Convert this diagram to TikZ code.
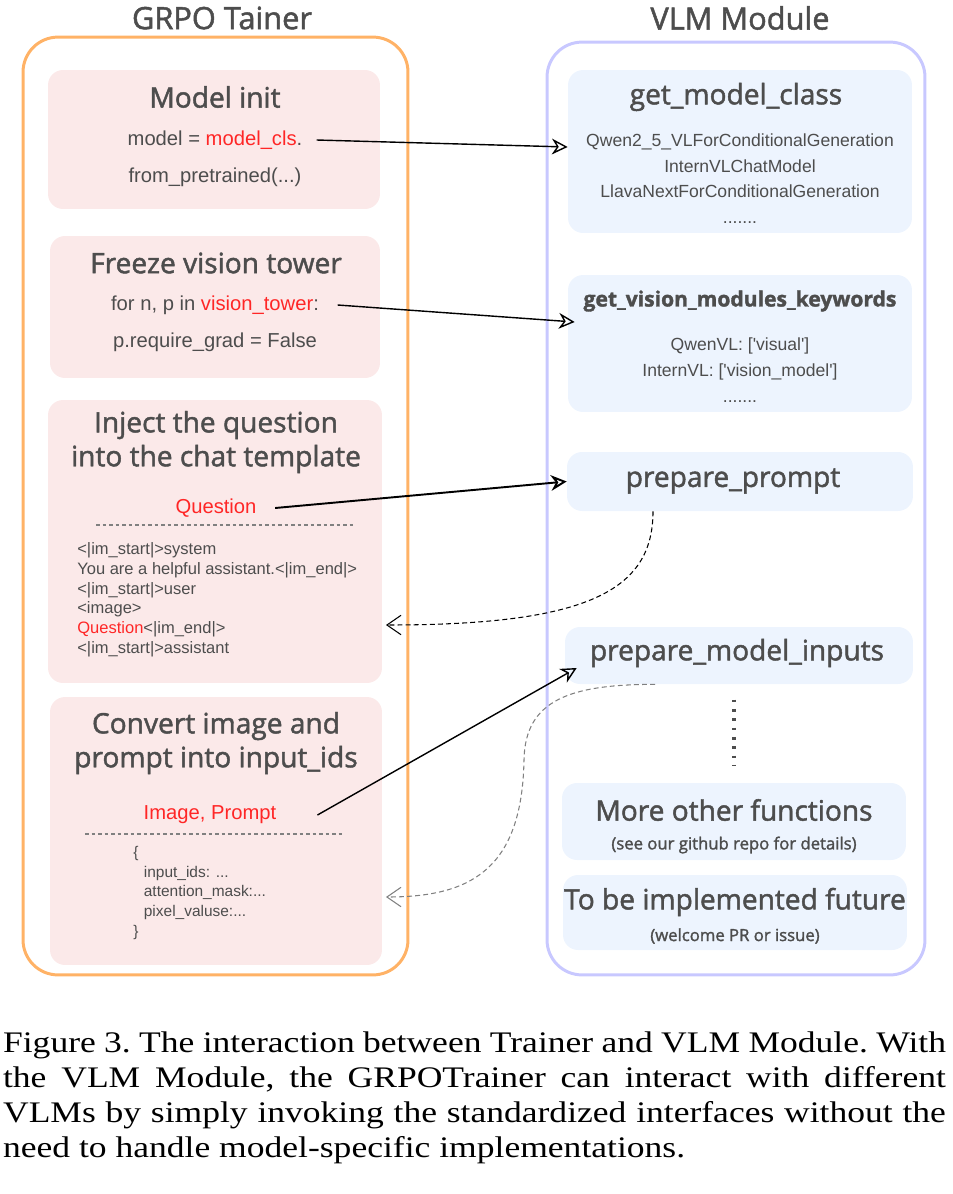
\documentclass[tikz,border=0pt]{standalone}
\usepackage{fontspec}
\setmainfont{Liberation Sans}
\newfontfamily\handfont{Open Sans}[FakeBold=1.6]
\newfontfamily\capfont{Liberation Serif}[FakeStretch=1.19]
\usetikzlibrary{arrows.meta}
\definecolor{ink}{RGB}{77,77,77}
\definecolor{hot}{RGB}{255,38,38}
\definecolor{rose}{RGB}{251,233,233}
\definecolor{ice}{RGB}{237,244,254}
\definecolor{peach}{RGB}{255,178,102}
\definecolor{lilac}{RGB}{200,200,255}
\newcommand{\redtxt}[1]{\textcolor{hot}{#1}}
\newcommand{\fs}[2]{\fontsize{#1}{#2}\selectfont}

\begin{document}
\begin{tikzpicture}[x=0.02cm,y=-0.02cm,
  frame/.style={draw, line width=1.7pt, rounded corners=0.7cm},
  rosebox/.style={fill=rose, rounded corners=0.3cm},
  icebox/.style={fill=ice, rounded corners=0.3cm},
  maintitle/.style={font=\handfont\fs{17.5}{21}, text=ink},
  head/.style={font=\handfont\fs{16}{19.3}, text=ink, align=center},
  sub/.style={font=\handfont\fs{9.5}{11}, text=ink},
  body/.style={font=\fs{11.5}{14}, text=ink},
  small/.style={font=\fs{10}{14.6}, text=ink, align=center},
  code/.style={font=\fs{9.4}{11.3}, text=ink, align=left, inner sep=0pt, anchor=north west},
  sep/.style={dash pattern=on 2pt off 1.7pt, gray, line width=0.6pt},
  fwd/.style={-{Stealth[open,length=9pt,width=9pt]}, line width=0.8pt},
  back/.style={dash pattern=on 2.8pt off 1.8pt, -{Straight Barb[length=8pt,width=11pt]}, line width=0.6pt}]
\useasboundingbox (0,0) rectangle (953,1194);

\node[maintitle] (lhead) at (222,18) {GRPO Tainer};
\node[maintitle] (rhead) at (740,18) {VLM Module};

\node[frame, draw=peach, minimum width=7.7cm, minimum height=18.76cm] (trainer) at (215.5,506) {};
\node[frame, draw=lilac, minimum width=7.56cm, minimum height=18.66cm] (vlm) at (736,508.5) {};

% trainer side
\node[rosebox, minimum width=6.64cm, minimum height=2.78cm] (init) at (214,139.5) {};
\node[head] (inithead) at (215,97) {Model init};
\node[body] (cls) at (215,140) {model = \redtxt{model\_cls}.};
\node[body] (fp) at (215,177) {from\_pretrained(...)};

\node[rosebox, minimum width=6.6cm, minimum height=2.84cm] (freeze) at (215,307) {};
\node[head] (freezehead) at (216,263) {Freeze vision tower};
\node[body] (vt) at (215,305) {for n, p in \redtxt{vision\_tower}:};
\node[body] (grad) at (215,342) {p.require\_grad = False};

\node[rosebox, minimum width=6.68cm, minimum height=5.66cm] (inject) at (215,541.5) {};
\node[head] (injecthead) at (216,442) {Inject the question\\into the chat template};
\node[body] (q) at (216,508) {\redtxt{Question}};
\draw[sep] (96,525) -- (355,525);
\node[code] (tmpl) at (77,542) {<|im\_start|>system\\
You are a helpful assistant.<|im\_end|>\\
<|im\_start|>user\\
<image>\\
\redtxt{Question}<|im\_end|>\\
<|im\_start|>assistant};

\node[rosebox, minimum width=6.64cm, minimum height=5.36cm] (convert) at (216,831) {};
\node[head] (converthead) at (216,743) {Convert image and\\prompt into input\_ids};
\node[body] (ip) at (210,815) {\redtxt{Image, Prompt}};
\draw[sep] (85,834) -- (343,834);
\node[code, font=\fs{8.8}{11.2}] (ids) at (133,846) {\{\\
\hspace*{6pt}input\_ids: ...\\
\hspace*{6pt}attention\_mask:...\\
\hspace*{6pt}pixel\_valuse:...\\
\}};

% vlm side
\node[icebox, minimum width=6.88cm, minimum height=3.26cm] (gmc) at (740,151.5) {};
\node[head] (gmchead) at (736,97) {get\_model\_class};
\node[small] (mlist) at (740,178.5) {Qwen2\_5\_VLForConditionalGeneration\\InternVLChatModel\\LlavaNextForConditionalGeneration\\.......};

\node[icebox, minimum width=6.88cm, minimum height=2.74cm] (gvk) at (740,343.5) {};
\node[head, font=\handfont\bfseries\fs{12}{14}] (gvkhead) at (740,301) {get\_vision\_modules\_keywords};
\node[small, font=\fs{10}{14.7}] (klist) at (740,370) {QwenVL: [\textquotesingle visual\textquotesingle]\\InternVL: [\textquotesingle vision\_model\textquotesingle]\\.......};

\node[icebox, minimum width=6.92cm, minimum height=1.18cm] (pp) at (740,481.5) {};
\node[head] (pphead) at (733,481) {prepare\_prompt};

\node[icebox, minimum width=6.96cm, minimum height=1.14cm] (pmi) at (739,655.5) {};
\node[head] (pmihead) at (737,653) {prepare\_model\_inputs};

\node[icebox, minimum width=6.88cm, minimum height=1.54cm] (more) at (734,821.5) {};
\node[head] (morehead) at (734,810) {More other functions};
\node[sub] (moresub) at (734,845) {(see our github repo for details)};

\node[icebox, minimum width=6.88cm, minimum height=1.5cm] (future) at (735,912.5) {};
\node[head] (futurehead) at (735,902) {To be implemented future};
\node[sub] (futuresub) at (735,936) {(welcome PR or issue)};

\draw[ink, line width=1.8pt, dash pattern=on 1.6pt off 3.7pt] ([yshift=1.66cm]more.north) -- ([yshift=0.34cm]more.north);

% calls between the two sides
\coordinate (tmplin) at (386,625);
\coordinate (idsin) at (386,897);
\draw[fwd] ([xshift=0.16cm]cls.east) -- ([yshift=0.09cm]gmc.west);
\draw[fwd] ([xshift=0.25cm]vt.east) -- ([xshift=0.14cm,yshift=0.43cm]gvk.west);
\draw[fwd, line width=1.1pt] ([xshift=0.25cm]q.east) -- (pp.west);
\draw[fwd] ([xshift=0.7cm]ip.east) -- ([xshift=0.24cm,yshift=-0.25cm]pmi.west);
\draw[back] ([xshift=-1.74cm]pp.south) .. controls +(0,80) and +(200,0) .. (tmplin);
\draw[back, gray] ([xshift=-1.68cm]pmi.south) .. controls +(-85,0) and +(1,-60) .. (524,760)
  .. controls +(-2,110) and +(84,0) .. (idsin);

\node[font=\capfont\fs{17}{19.85}, text width=18.86cm, align=justify, inner sep=0pt] (caption) at (474.5,1098)
  {\frenchspacing Figure 3. The interaction between Trainer and VLM Module. With\linebreak
   the VLM Module, the GRPOTrainer can interact with different\linebreak
   VLMs by simply invoking the standardized interfaces without the\linebreak
   need to handle model-specific implementations.};
\end{tikzpicture}
\end{document}
